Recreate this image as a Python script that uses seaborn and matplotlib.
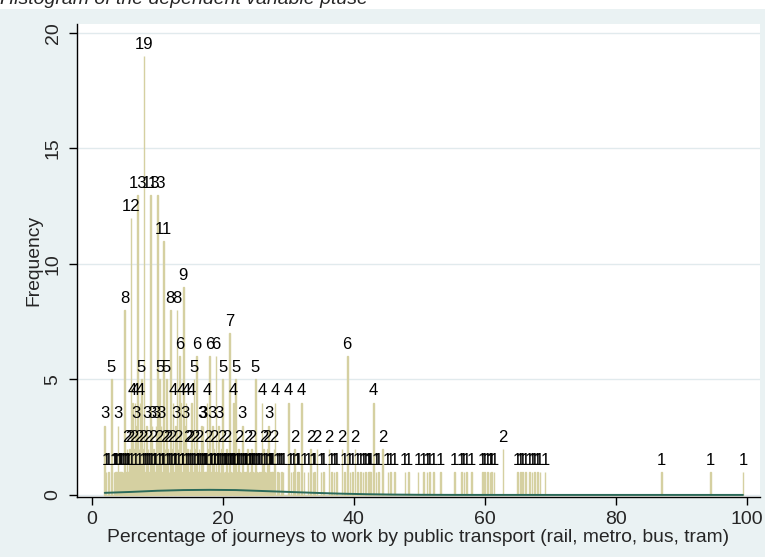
import matplotlib
matplotlib.use("Agg")
import matplotlib.pyplot as plt
import numpy as np
import pandas as pd
import seaborn as sns
from matplotlib.patches import Rectangle

# distinct values of ptuse and how often each occurs
ptuse_pct = [
    2.0, 2.2, 2.6, 3.0, 3.4, 3.6, 3.8, 4.0, 4.2, 4.4, 4.6, 4.8, 5.0, 5.2, 5.4, 5.6, 5.8,
    6.0, 6.2, 6.4, 6.6, 6.8, 7.0, 7.2, 7.4, 7.6, 7.8, 8.0, 8.2, 8.4, 8.6, 8.8,
    9.0, 9.2, 9.4, 9.6, 9.8, 10.0, 10.2, 10.4, 10.6, 10.8, 11.0, 11.2, 11.4, 11.6, 11.8,
    12.0, 12.2, 12.4, 12.6, 12.8, 13.0, 13.2, 13.4, 13.6, 13.8, 14.0, 14.2, 14.4, 14.6, 14.8,
    15.0, 15.2, 15.4, 15.6, 15.8, 16.0, 16.2, 16.4, 16.6, 16.8, 17.0, 17.2, 17.4, 17.6, 17.8,
    18.0, 18.2, 18.4, 18.6, 18.8, 19.0, 19.2, 19.4, 19.6, 19.8, 20.0, 20.2, 20.4, 20.6, 20.8,
    21.0, 21.2, 21.4, 21.6, 21.8, 22.0, 22.2, 22.4, 22.6, 22.8, 23.0, 23.2, 23.4, 23.6, 23.8,
    24.0, 24.2, 24.4, 24.6, 24.8, 25.0, 25.2, 25.4, 25.6, 26.0, 26.2, 26.4, 26.6, 26.8,
    27.0, 27.2, 27.4, 27.6, 27.8, 28.0, 28.4, 28.6, 29.0, 29.2,
    30.0, 30.4, 30.8, 31.0, 31.4, 31.6, 32.0, 32.4, 33.0, 33.4, 33.8, 34.0, 34.4, 35.0, 35.4,
    36.2, 36.6, 37.0, 37.4, 38.2, 38.6, 39.0, 39.4, 39.8,
    40.2, 40.6, 41.0, 41.4, 41.8, 42.2, 42.4, 42.6, 43.0, 43.4, 43.8, 44.4,
    45.2, 45.6, 46.2, 47.8, 48.4, 49.8, 50.6, 51.2, 51.6, 52.2, 53.2,
    55.4, 56.4, 56.8, 57.2, 58.0, 59.6, 60.0, 60.4, 60.8, 61.0, 61.4, 62.8,
    65.0, 65.4, 65.8, 66.2, 66.8, 67.2, 67.6, 68.0, 68.4, 69.2,
    87.0, 94.4, 99.4,
]
frequency = [
    3, 1, 1, 5, 1, 1, 1, 3, 1, 1, 1, 1, 8, 1, 2, 1, 2,
    12, 4, 2, 4, 3, 13, 2, 4, 5, 2, 19, 1, 3, 2, 1,
    13, 3, 2, 1, 3, 13, 2, 5, 3, 1, 11, 2, 5, 2, 1,
    8, 2, 4, 1, 3, 8, 2, 6, 4, 1, 9, 3, 4, 2, 1,
    2, 4, 1, 5, 2, 6, 1, 2, 1, 3, 3, 1, 1, 4, 2,
    6, 1, 3, 2, 1, 6, 1, 3, 1, 2, 5, 1, 1, 2, 1,
    7, 1, 1, 4, 1, 5, 1, 2, 1, 1, 3, 1, 1, 1, 2,
    1, 1, 2, 1, 1, 5, 1, 1, 1, 4, 2, 1, 1, 2,
    3, 1, 1, 1, 2, 4, 1, 1, 1, 1,
    4, 1, 1, 2, 1, 1, 4, 1, 1, 2, 1, 1, 2, 1, 1,
    2, 1, 1, 1, 2, 1, 6, 1, 1,
    2, 1, 1, 1, 1, 1, 1, 1, 4, 1, 1, 2,
    1, 1, 1, 1, 1, 1, 1, 1, 1, 1, 1,
    1, 1, 1, 1, 1, 1, 1, 1, 1, 1, 1, 2,
    1, 1, 1, 1, 1, 1, 1, 1, 1, 1,
    1, 1, 1,
]
# further single observations packed between the bars above (each occurs once)
single_pct = [
    5.5, 6.1, 6.7, 7.3, 7.9, 8.5, 9.1, 9.7, 10.3, 10.9, 11.5, 12.1, 12.7, 13.3,
    13.9, 14.5, 15.1, 15.7, 16.3, 16.9, 17.5, 18.1, 18.7, 19.3, 19.9, 20.5,
    21.1, 21.7, 22.3, 23.5, 24.5, 25.9, 27.1,
]

# normal density overlay
curve_x = [2, 6, 10, 14, 18, 22, 26, 30, 34, 38, 42, 46, 50, 56, 70, 99.4]
curve_y = [0.09, 0.13, 0.18, 0.21, 0.22, 0.21, 0.17, 0.13, 0.09, 0.055, 0.03, 0.015,
           0.006, 0.001, 0.0, 0.0]

x_ticks = [0, 20, 40, 60, 80, 100]
y_ticks = [0, 5, 10, 15, 20]

BG = "#eaf2f3"
BAR = "#d5d0a1"
LINE = "#2b6a5a"

sns.set_style("white")
plt.rcParams["font.family"] = ["Liberation Sans", "DejaVu Sans"]

W, H = 765, 557
fig = plt.figure(figsize=(W / 100, H / 100), dpi=100)
fig.patch.set_facecolor("white")
fig.add_artist(Rectangle((0, 0), 1, 1 - 9 / H, transform=fig.transFigure,
                         facecolor=BG, edgecolor="none", zorder=-5))

ax = fig.add_axes([77 / W, 1 - 497 / H, (760 - 77) / W, (497 - 24) / H])
ax.set_zorder(1)
ax.set_facecolor("white")

all_pct = ptuse_pct + single_pct
all_freq = frequency + [1] * len(single_pct)
obs = pd.DataFrame({"ptuse": np.repeat(all_pct, all_freq)})
sns.histplot(data=obs, x="ptuse", binwidth=0.1, binrange=(1.95, 99.45),
             color=BAR, edgecolor=BAR, linewidth=1.0, alpha=1, ax=ax, zorder=2)

for v, f in zip(all_pct, all_freq):
    ax.annotate(str(f), (v, f), xytext=(0, 3), textcoords="offset points",
                ha="center", va="bottom", fontsize=12, color="black", zorder=4)

sns.lineplot(x=curve_x, y=curve_y, color=LINE, linewidth=1.4, ax=ax, zorder=3)

ax.set_xlim(-2.24, 102.0)
ax.set_ylim(-0.09, 20.39)
ax.set_xticks(x_ticks)
ax.set_yticks(y_ticks)
ax.yaxis.grid(True, color="#e1eaed", linewidth=1.0)
ax.set_axisbelow(True)
for s in ["top", "right"]:
    ax.spines[s].set_visible(False)
for s in ["left", "bottom"]:
    ax.spines[s].set_color("black")
    ax.spines[s].set_linewidth(1.0)
ax.tick_params(axis="both", which="major", direction="out", length=6, width=1,
               color="black", labelsize=14, bottom=True, left=True)
ax.tick_params(axis="x", pad=4)
ax.tick_params(axis="y", pad=5)
for lab in ax.get_yticklabels():
    lab.set_rotation(90)
    lab.set_va("center")

ax.set_xlabel("Percentage of journeys to work by public transport (rail, metro, bus, tram)",
              fontsize=13.9, labelpad=1)
ax.set_ylabel("Frequency", fontsize=13.9, labelpad=2)

fig.text(0.0, 1 - 4 / H, "Histogram of the dependent variable ptuse", fontsize=14,
         style="italic", ha="left", va="baseline", zorder=5)

fig.savefig("out.png", dpi=100, facecolor=fig.get_facecolor())
